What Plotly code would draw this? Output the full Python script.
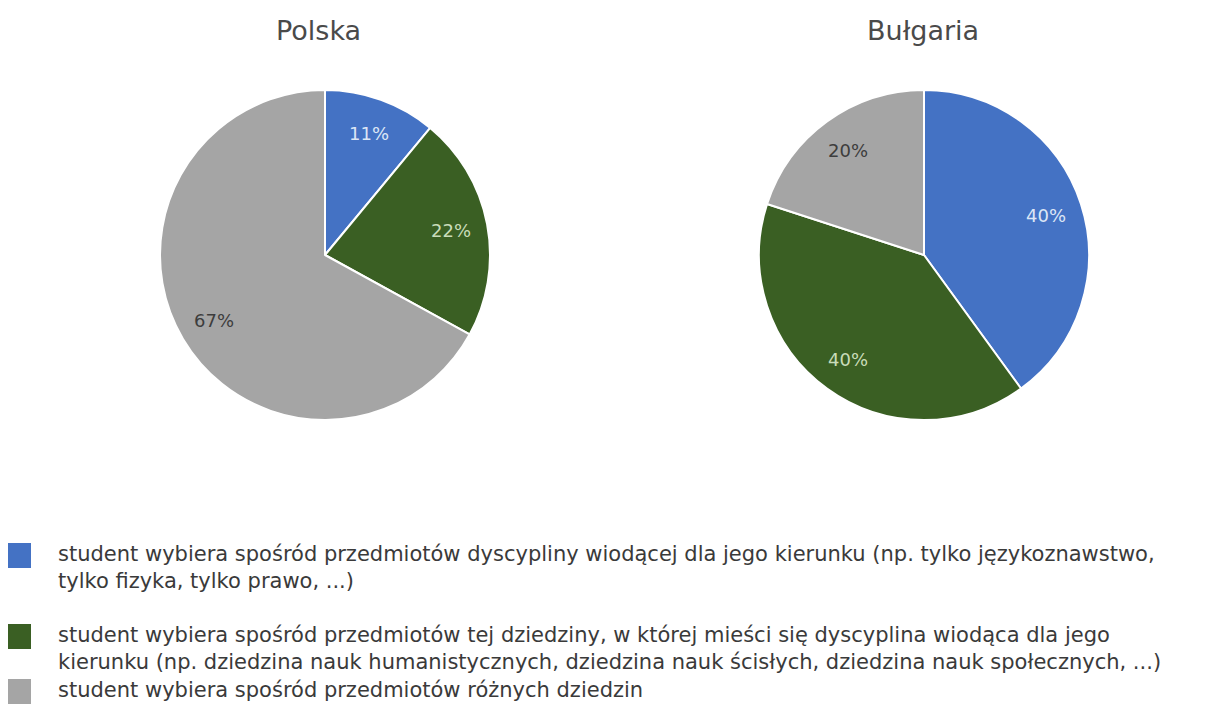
import math
import plotly.graph_objects as go

countries = ["Polska", "Bułgaria"]
categories = [
    "student wybiera spośród przedmiotów dyscypliny wiodącej dla jego kierunku (np. tylko językoznawstwo,<br>tylko fizyka, tylko prawo, ...)",
    "student wybiera spośród przedmiotów tej dziedziny, w której mieści się dyscyplina wiodąca dla jego<br>kierunku (np. dziedzina nauk humanistycznych, dziedzina nauk ścisłych, dziedzina nauk społecznych, ...)",
    "student wybiera spośród przedmiotów różnych dziedzin",
]
polska_values = [11, 22, 67]
bulgaria_values = [40, 40, 20]

colors = ["#4472C4", "#3A5F23", "#A5A5A5"]
label_colors = ["#dce6f6", "#c9dcb9", "#3d3d3d"]

OFF = 8  # page body margin
W, H = 1212 - OFF, 704 - OFF
FONT = "DejaVu Sans"

def px(x):
    return (x - OFF) / W

def py(y):
    return 1 - (y - OFF) / H

fig = go.Figure()

R = 165
CY = 255
for name, vals, cx, tx in [(countries[0], polska_values, 325, 318), (countries[1], bulgaria_values, 924, 923)]:
    fig.add_trace(go.Pie(
        labels=categories, values=vals, name=name,
        sort=False, direction="clockwise", rotation=0,
        marker=dict(colors=colors, line=dict(color="white", width=2)),
        textinfo="none",
        domain=dict(x=[px(cx - R), px(cx + R)], y=[py(CY + R), py(CY - R)]),
        showlegend=False, hoverinfo="label+percent",
    ))
    fig.add_annotation(text=name, x=px(tx), y=py(30), xref="paper", yref="paper",
                       showarrow=False, font=dict(family=FONT, size=27, color="#4a4a4a"),
                       xanchor="center", yanchor="middle")
    # slice value labels placed at slice mid-angle
    total = sum(vals)
    cum = 0
    for v, lc in zip(vals, label_colors):
        mid = (cum + v / 2) / total * 2 * math.pi
        cum += v
        lx = cx + 0.78 * R * math.sin(mid)
        ly = CY - 0.78 * R * math.cos(mid)
        fig.add_annotation(text=f"{v}%", x=px(lx), y=py(ly), xref="paper", yref="paper",
                           showarrow=False, font=dict(family=FONT, size=18, color=lc),
                           xanchor="center", yanchor="middle")

legend_y = [556, 637, 692]
for i, (cat, col) in enumerate(zip(categories, colors)):
    y = legend_y[i]
    fig.add_shape(type="rect", xref="paper", yref="paper",
                  x0=px(8), x1=px(31), y0=py(y + 12), y1=py(y - 13),
                  fillcolor=col, line=dict(width=0))
    fig.add_annotation(text=cat, x=px(56), y=py(y - 16), xref="paper", yref="paper",
                       showarrow=False, align="left", xanchor="left", yanchor="top",
                       font=dict(family=FONT, size=21, color="#3a3a3a"))

fig.update_layout(width=W, height=H, margin=dict(l=0, r=0, t=0, b=0),
                  paper_bgcolor="white", plot_bgcolor="white")
fig.write_html("out.html")
